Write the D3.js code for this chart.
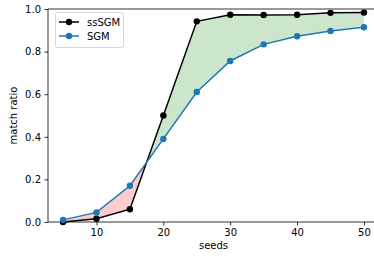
<!DOCTYPE html>
<html>
<head>
<meta charset="utf-8">
<script src="https://cdn.jsdelivr.net/npm/d3@7"></script>
<style>
body { margin: 0; background: #fff; }
svg { font-family: "DejaVu Sans", sans-serif; }
</style>
</head>
<body>
<div id="chart"></div>
<script>
var seeds = [5, 10, 15, 20, 25, 30, 35, 40, 45, 50]
var ssSGM = [0.0, 0.015, 0.06, 0.5, 0.942, 0.973, 0.972, 0.973, 0.982, 0.983]
var SGM = [0.01, 0.045, 0.17, 0.39, 0.61, 0.756, 0.834, 0.872, 0.897, 0.914]
var xTicks = [10, 20, 30, 40, 50]
var yTicks = [0.0, 0.2, 0.4, 0.6, 0.8, 1.0]

var W = 374, H = 258
var m = {left: 48, top: 9, right: 379, bottom: 222}

var svg = d3.select("#chart").append("svg").attr("width", W).attr("height", H)

var x = d3.scaleLinear().domain([2.75, 52.25]).range([m.left, m.right])
var y = d3.scaleLinear().domain([0, 1]).range([m.bottom, m.top])

// fill between, split at crossings
var pts = []
for (var i = 0; i < seeds.length; i++) {
    pts.push({s: seeds[i], a: ssSGM[i], b: SGM[i]})
    if (i < seeds.length - 1) {
        var d0 = ssSGM[i] - SGM[i], d1 = ssSGM[i+1] - SGM[i+1]
        if (d0 * d1 < 0) {
            var t = d0 / (d0 - d1)
            var xs = seeds[i] + t * (seeds[i+1] - seeds[i])
            var ys = ssSGM[i] + t * (ssSGM[i+1] - ssSGM[i])
            pts.push({s: xs, a: ys, b: ys})
        }
    }
}
var area = d3.area().x(function(d) { return x(d.s) })
var green = d3.area().x(function(d) { return x(d.s) })
    .y0(function(d) { return y(d.b) }).y1(function(d) { return y(Math.max(d.a, d.b)) })
var red = d3.area().x(function(d) { return x(d.s) })
    .y0(function(d) { return y(d.a) }).y1(function(d) { return y(Math.max(d.a, d.b)) })
svg.append("path").attr("d", green(pts)).attr("fill", "green").attr("fill-opacity", 0.2)
svg.append("path").attr("d", red(pts)).attr("fill", "red").attr("fill-opacity", 0.2)

// spines
svg.append("line").attr("x1", m.left).attr("x2", m.right).attr("y1", m.top).attr("y2", m.top).attr("stroke", "#000").attr("stroke-width", 0.8)
svg.append("line").attr("x1", m.left).attr("x2", m.right).attr("y1", m.bottom).attr("y2", m.bottom).attr("stroke", "#000").attr("stroke-width", 0.8)
svg.append("line").attr("x1", m.left).attr("x2", m.left).attr("y1", m.top).attr("y2", m.bottom).attr("stroke", "#000").attr("stroke-width", 0.8)

var xAxis = svg.append("g").attr("transform", "translate(0," + m.bottom + ")")
    .call(d3.axisBottom(x).tickValues(xTicks).tickSize(3.5).tickPadding(3.5).tickFormat(d3.format("d")))
var yAxis = svg.append("g").attr("transform", "translate(" + m.left + ",0)")
    .call(d3.axisLeft(y).tickValues(yTicks).tickSize(3.5).tickPadding(3.5).tickFormat(d3.format(".1f")))
svg.selectAll(".domain").remove()
svg.selectAll(".tick line").attr("stroke", "#000").attr("stroke-width", 0.8)
svg.selectAll(".tick text").attr("font-size", 10).attr("fill", "#000").style("font-family", "DejaVu Sans")

svg.append("text").attr("x", (m.left + m.right) / 2).attr("y", 249).attr("text-anchor", "middle")
    .attr("font-size", 10).text("seeds")
svg.append("text").attr("transform", "translate(17," + ((m.top + m.bottom) / 2) + ") rotate(-90)")
    .attr("text-anchor", "middle").attr("font-size", 10).text("match ratio")

var line = d3.line().x(function(d) { return x(d[0]) }).y(function(d) { return y(d[1]) })
var series = [
    {name: "ssSGM", vals: ssSGM, color: "#000000"},
    {name: "SGM", vals: SGM, color: "#1f77b4"}
]
series.forEach(function(s) {
    var data = seeds.map(function(v, i) { return [v, s.vals[i]] })
    svg.append("path").attr("d", line(data)).attr("fill", "none").attr("stroke", s.color).attr("stroke-width", 1.5)
    svg.selectAll(null).data(data).enter().append("circle")
        .attr("cx", function(d) { return x(d[0]) }).attr("cy", function(d) { return y(d[1]) })
        .attr("r", 3.2).attr("fill", s.color)
})

// legend
var lg = svg.append("g").attr("transform", "translate(55,12)")
lg.append("rect").attr("x", 0.5).attr("y", 0.5).attr("width", 68).attr("height", 35).attr("rx", 2)
    .attr("fill", "#fff").attr("fill-opacity", 0.8).attr("stroke", "#ccc").attr("stroke-width", 0.8)
series.forEach(function(s, i) {
    var yy = 10 + i * 14
    lg.append("line").attr("x1", 4).attr("x2", 24).attr("y1", yy).attr("y2", yy).attr("stroke", s.color).attr("stroke-width", 1.5)
    lg.append("circle").attr("cx", 14).attr("cy", yy).attr("r", 3.2).attr("fill", s.color)
    lg.append("text").attr("x", 32).attr("y", yy + 3.5).attr("font-size", 10).text(s.name)
})
</script>
</body>
</html>
